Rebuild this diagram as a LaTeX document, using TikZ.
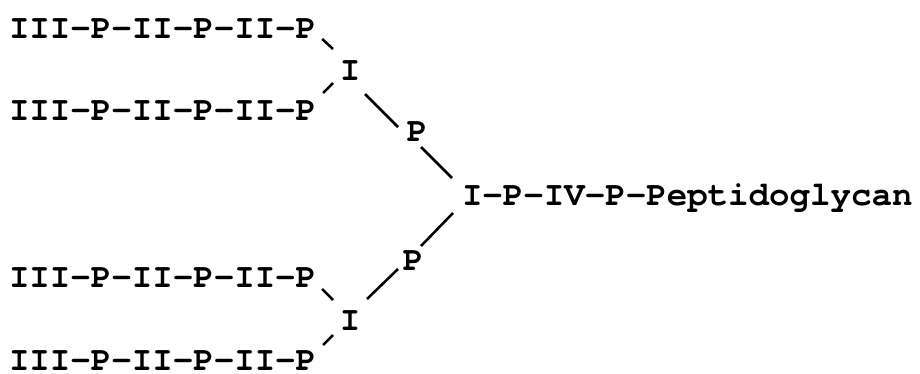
\documentclass[tikz,border=0pt]{standalone}
\usepackage{fontspec}
\setmainfont{TeX Gyre Cursor}
\usetikzlibrary{calc}
\begin{document}
\begin{tikzpicture}[x=0.75pt,y=-0.75pt,
  txt/.style={inner sep=0pt,outer sep=0pt,font=\fontsize{25.6pt}{30pt}\selectfont\bfseries},
  bond/.style={line width=1.9pt,black}]
\useasboundingbox (0,0) rectangle (920,374);
\node[txt,anchor=base west] (L1) at (9,39) {III-P-II-P-II-P};
\node[txt,anchor=base west] (L2) at (9,121) {III-P-II-P-II-P};
\node[txt,anchor=base west] (L3) at (9,287) {III-P-II-P-II-P};
\node[txt,anchor=base west] (L4) at (9,370) {III-P-II-P-II-P};
\node[txt,anchor=base] (Iu) at (350,81) {I};
\node[txt,anchor=base] (Il) at (350,330) {I};
\node[txt,anchor=base] (Pu) at (417,142) {P};
\node[txt,anchor=base] (Pl) at (413,270) {P};
\node[txt,anchor=base west] (M) at (462,205) {I-P-IV-P-Peptidoglycan};
\draw[bond] ($(L1.base east)+(6,0)$) -- ($(Iu.base)+(-17,-32)$);
\draw[bond] ($(L2.base east)+(7,-28)$) -- ($(Iu.base)+(-17,2)$);
\draw[bond] ($(Iu.base)+(15,13)$) -- ($(Pu.base)+(-19,-15)$);
\draw[bond] ($(Pu.base)+(4,5)$) -- ($(M.base west)+(-10,-27)$);
\draw[bond] ($(M.base west)+(-9,8)$) -- ($(Pl.base)+(8,-24)$);
\draw[bond] ($(L3.base east)+(6,2)$) -- ($(Il.base)+(-17,-30)$);
\draw[bond] ($(L4.base east)+(7,-25)$) -- ($(Il.base)+(-17,5)$);
\draw[bond] ($(Il.base)+(17,-31)$) -- ($(Pl.base)+(-15,-1)$);
\end{tikzpicture}
\end{document}
